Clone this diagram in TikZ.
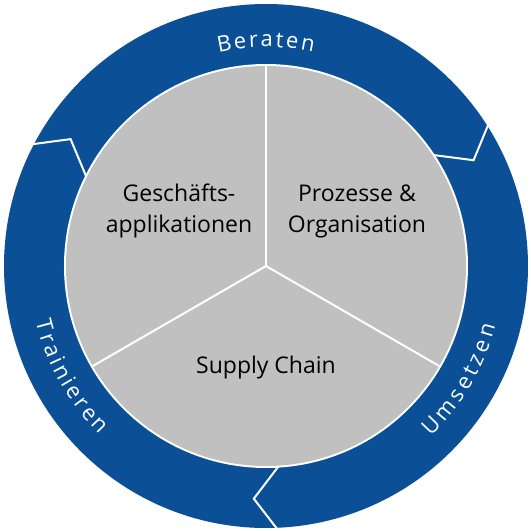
\documentclass[tikz,border=0pt]{standalone}
\usepackage{fontspec}
\setmainfont{Open Sans}

\definecolor{ringblue}{RGB}{11,79,151}
\definecolor{coregray}{RGB}{192,192,192}

\tikzset{
    divider/.style={draw=white, line width=2pt},
    chevron/.style={draw=white, line width=2pt, line join=miter},
    field/.style={align=center, font=\fontsize{23}{31}\selectfont, text=black},
    ringletter/.style={anchor=base, inner sep=0pt, text=white,
        font=\fontsize{22}{22}\selectfont}
}

\begin{document}
\begin{tikzpicture}[x=1pt,y=1pt]

    \useasboundingbox (-266,-265) rectangle (265,266);

    % ring and core
    \fill[ringblue] (0,0) circle (262pt);
    \fill[white] (0,0) circle (202pt);
    \fill[coregray] (0,0) circle (200pt);

    % three fields
    \coordinate (hub) at (0,0);
    \foreach \a in {90,210,330} {
        \draw[divider] (hub) to (\a:200pt);
    }

    % arrow joints in the ring
    \foreach \a in {153.5,33.5,-86.5} {
        \draw[chevron] (\a:201pt) to (\a-6.5:233pt) to (\a-0.8:265pt);
    }

    \node[field] (apps) at (-87,55) {Geschäfts-\\applikationen};
    \node[field] (proc) at (91,55) {Prozesse \&\\Organisation};
    \node[field] (supply) at (0,-102) {Supply Chain};

    % ring labels, letter by letter
    \foreach \l/\a in {B/100.6,e/96.6,r/93.2,a/89.8,t/86.5,e/83.3,n/79.3} {
        \node[ringletter, rotate=\a-90] at (\a:219pt) {\l};
    }
    \foreach \l/\a in {T/195.1,r/198.4,a/201.6,i/204.5,n/207.5,i/210.5,e/213.3,r/216.6,e/219.9,n/223.7} {
        \node[ringletter, rotate=\a+90] at (\a:237pt) {\l};
    }
    \foreach \l/\a in {U/-44.0,m/-38.8,s/-34.1,e/-30.4,t/-27.1,z/-24.0,e/-20.3,n/-16.2} {
        \node[ringletter, rotate=\a+90] at (\a:237pt) {\l};
    }

\end{tikzpicture}
\end{document}
